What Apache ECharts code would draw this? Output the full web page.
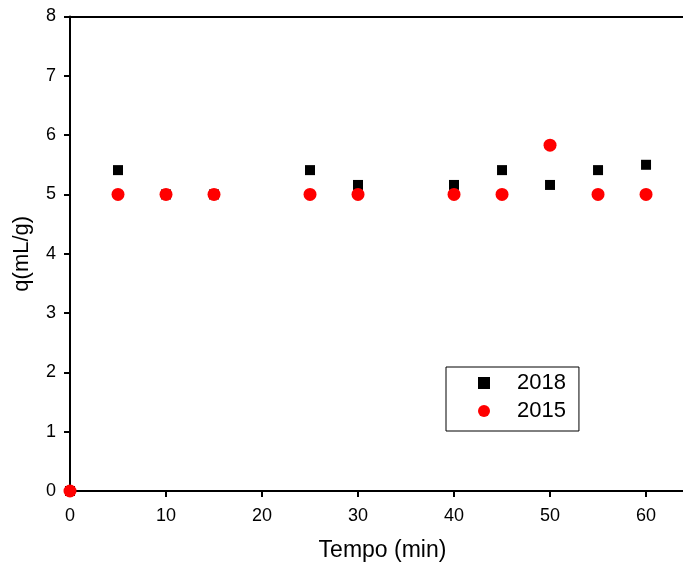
<!DOCTYPE html>
<html><head><meta charset="utf-8">
<script src="https://cdn.jsdelivr.net/npm/echarts@6/dist/echarts.min.js"></script>
<style>html,body{margin:0;padding:0;background:#fff}#c{width:683px;height:566px}</style>
</head><body><div id="c"></div>
<script>
var times2018 = [0, 5, 10, 15, 25, 30, 40, 45, 50, 55, 60];
var q2018 = [0, 5.41, 5.0, 5.0, 5.41, 5.16, 5.16, 5.41, 5.16, 5.41, 5.5];
var times2015 = [0, 5, 10, 15, 25, 30, 40, 45, 50, 55, 60];
var q2015 = [0, 5.0, 5.0, 5.0, 5.0, 5.0, 5.0, 5.0, 5.83, 5.0, 5.0];
var xTicks = [0, 10, 20, 30, 40, 50, 60];
var yTicks = [0, 1, 2, 3, 4, 5, 6, 7, 8];

function pairs(xs, ys){ return xs.map(function(x,i){ return [x, ys[i]]; }); }
var font = 'Liberation Sans, Arial, sans-serif';
var chart = echarts.init(document.getElementById('c'));
chart.setOption({
  animation: false,
  grid: {left: 70, top: 16.5, right: 0, bottom: 75, outerBoundsMode: 'none', containLabel: false},
  xAxis: [{
    type: 'value', min: 0, max: 63.85, interval: 10,
    name: 'Tempo (min)', nameLocation: 'middle', nameGap: 48,
    nameTextStyle: {fontFamily: font, fontSize: 23, color: '#000', padding: [0, 0, 0, 12]},
    axisLine: {lineStyle: {color: '#000', width: 2}},
    axisTick: {show: true, length: 6, lineStyle: {color: '#000', width: 2},
      customValues: xTicks},
    axisLabel: {fontFamily: font, fontSize: 18, color: '#000', margin: 16,
      customValues: xTicks},
    splitLine: {show: false}
  }, {
    type: 'value', min: 0, max: 63.85, position: 'top',
    axisLine: {show: true, onZero: false, lineStyle: {color: '#000', width: 2}},
    axisTick: {show: false}, axisLabel: {show: false}, splitLine: {show: false}
  }],
  yAxis: {
    type: 'value', min: 0, max: 8, interval: 1,
    name: 'q(mL/g)', nameLocation: 'middle', nameGap: 37,
    nameTextStyle: {fontFamily: font, fontSize: 22, color: '#000'},
    axisLine: {show: true, lineStyle: {color: '#000', width: 2}},
    axisTick: {show: true, length: 6, lineStyle: {color: '#000', width: 2}},
    axisLabel: {fontFamily: font, fontSize: 18, color: '#000', margin: 14},
    splitLine: {show: false}
  },
  legend: {
    left: 446, top: 367, orient: 'vertical',
    borderColor: '#000', borderWidth: 1, borderRadius: 0,
    padding: [5, 13, 9, 32], itemGap: 6,
    itemWidth: 12, itemHeight: 12,
    textStyle: {fontFamily: font, fontSize: 22, color: '#000', padding: [0, 0, 0, 22]},
    data: [{name: '2018', icon: 'rect'}, {name: '2015', icon: 'circle'}]
  },
  series: [{
    name: '2018', type: 'scatter', symbol: 'rect', symbolSize: 10,
    itemStyle: {color: '#000', opacity: 1}, data: pairs(times2018, q2018), z: 2
  }, {
    name: '2015', type: 'scatter', symbol: 'circle', symbolSize: 13,
    itemStyle: {color: '#ff0000', opacity: 1}, data: pairs(times2015, q2015), z: 3
  }]
});
</script></body></html>
